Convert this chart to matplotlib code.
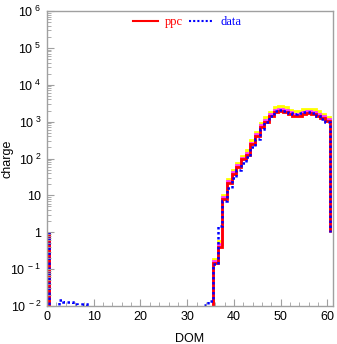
import numpy as np
import matplotlib
matplotlib.use("Agg")
import matplotlib.pyplot as plt
from matplotlib.ticker import MultipleLocator, FixedLocator, NullFormatter, FuncFormatter

plt.rcParams['font.family'] = ['Liberation Sans', 'DejaVu Sans']
plt.rcParams['mathtext.fontset'] = 'custom'
plt.rcParams['mathtext.rm'] = 'Liberation Sans'
plt.rcParams['mathtext.it'] = 'Liberation Sans'

# DOM numbers 1..60
dom = np.arange(1, 61)

# ppc (red)
ppc = [0]*35 + [0.15, 0.39, 8.0, 22, 37, 58, 94, 128, 240, 410, 710, 1000, 1400,
                1850, 1950, 1850, 1600, 1420, 1400, 1600, 1700, 1620, 1420, 1220, 1030]
# data (blue dotted)
data = [0, 0, 0.0145, 0.013, 0.0125, 0.011, 0, 0.011] + [0]*25 + \
       [0.0105, 0.014, 0.14, 1.5, 7.0, 16, 29, 48, 75, 108, 200, 340, 640, 960, 1400,
        1900, 2050, 1950, 1750, 1600, 1700, 1850, 1850, 1700, 1400, 1200, 1000]
# upper variant (yellow)
upper = [0]*35 + [0.19, 0.58, 10.5, 28, 48, 75, 120, 165, 310, 530, 920, 1300, 1850,
                  2450, 2600, 2450, 2100, 1900, 1900, 2150, 2250, 2150, 1900, 1600, 1350]
# middle variant (magenta)
middle = [0]*35 + [0.17, 0.47, 9.0, 25, 42, 65, 105, 145, 270, 460, 800, 1130, 1580,
                   2080, 2200, 2080, 1800, 1600, 1580, 1800, 1920, 1830, 1600, 1380, 1160]

y_exponents = [-2, -1, 0, 1, 2, 3, 4, 5, 6]

edges = np.append(dom - 0.5, dom[-1] + 0.5)

fig = plt.figure(figsize=(3.37, 3.44), dpi=100)
ax = fig.add_axes([47/337, 1-306/344, 286/337, 295/344])
ax.set_yscale('log')

ax.stairs(upper, edges, baseline=1, color='#ffff00', lw=2.0)
ax.stairs(middle, edges, baseline=1, color='#ff33ff', lw=2.0)
ax.stairs(ppc, edges, baseline=1, color='#ff0000', lw=2.0)
ax.stairs(data, edges, baseline=1, color='#0000ff', lw=1.8, linestyle=(0, (1, 1)))

ax.set_xlim(0, 61.2)
ax.set_ylim(1e-2, 1e6)

ax.xaxis.set_major_locator(MultipleLocator(10))
ax.xaxis.set_minor_locator(MultipleLocator(2))
ax.yaxis.set_major_locator(FixedLocator([10.0**n for n in y_exponents]))
minor = [m * 10.0**n for n in y_exponents[:-1] for m in range(2, 10)]
ax.yaxis.set_minor_locator(FixedLocator(minor))
ax.yaxis.set_minor_formatter(NullFormatter())

def yfmt(v, pos):
    n = int(round(np.log10(v)))
    if n == 0:
        return '1'
    if n == 1:
        return '10'
    return r'$10^{\ %d}$' % n

ax.yaxis.set_major_formatter(FuncFormatter(yfmt))

grey = '#a0a0a0'
for s in ax.spines.values():
    s.set_color(grey)
    s.set_linewidth(1.0)
ax.tick_params(which='both', direction='in', color=grey, labelsize=9, top=False, right=False)
ax.tick_params(axis='y', which='major', pad=4)
ax.tick_params(which='major', length=5)
ax.tick_params(which='minor', length=3)

ax.set_xlabel('DOM', fontsize=9, labelpad=7)
ax.set_ylabel('charge', fontsize=9)
ax.yaxis.set_label_coords(-0.118, 0.5)

# legend
leg = ax.legend(handles=[plt.Line2D([], [], color='#ff0000', lw=1.5),
                         plt.Line2D([], [], color='#0000ff', lw=1.5, linestyle=(0, (1, 1)))],
                labels=['ppc', 'data'], loc='upper center', bbox_to_anchor=(0.49, 1.02),
                ncol=2, frameon=False, prop={'family': 'Liberation Serif', 'size': 9},
                handlelength=2.0, columnspacing=0.5, handletextpad=0.5)
for t, c in zip(leg.get_texts(), ['#ff0000', '#0000ff']):
    t.set_color(c)

fig.savefig('out.png', dpi=100)
